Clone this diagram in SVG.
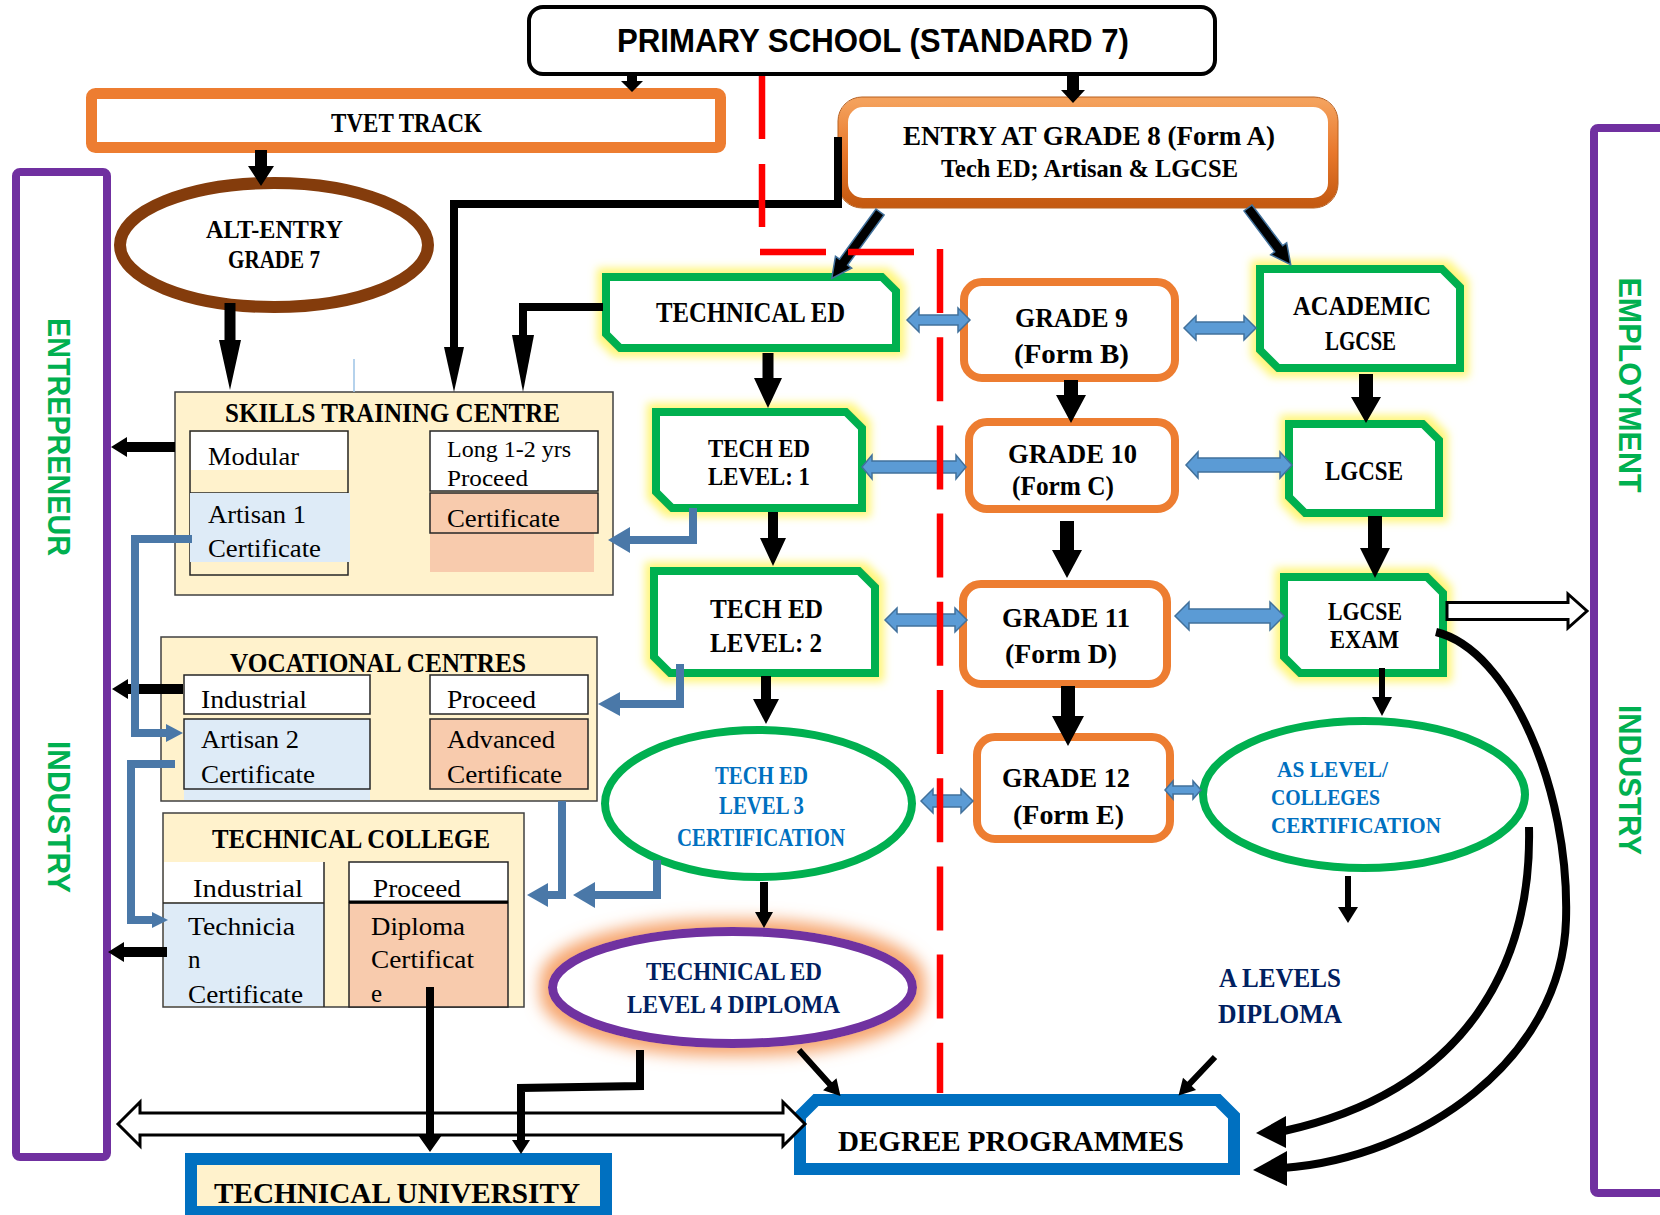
<svg xmlns="http://www.w3.org/2000/svg" width="1660" height="1215" viewBox="0 0 1660 1215">
<defs>
<style>
.ser{font-family:"Liberation Serif","DejaVu Serif",serif}
.sb{font-family:"Liberation Serif","DejaVu Serif",serif;font-weight:bold}
.sans{font-family:"Liberation Sans","DejaVu Sans",sans-serif;font-weight:bold}
.dbl{fill:#5B9BD5;stroke:#41719C;stroke-width:1.5}
.grn{fill:#fff;stroke:#00B050;stroke-width:8}
.org{fill:#fff;stroke:#ED7D31;stroke-width:8}
.red{stroke:#FF0000;stroke-width:6.5;fill:none}
.bl{fill:none;stroke:#4A78A8;stroke-width:8}
.blh{fill:#4A78A8}
.ln{fill:none;stroke:#000;stroke-width:8}
.cell{stroke:#262626;stroke-width:1.5}
.cream{fill:#FFF2CC;stroke:#404040;stroke-width:1.5}
.vert{fill:#00B050;font-size:32px}
.blu{fill:#0070C0}
.navy{fill:#002060}
.hol{fill:#fff;stroke:#000;stroke-width:3;stroke-linejoin:miter}
</style>
<filter id="gy" x="-20%" y="-30%" width="140%" height="160%">
<feMorphology in="SourceAlpha" operator="dilate" radius="5" result="d"/>
<feGaussianBlur in="d" stdDeviation="4" result="b"/>
<feFlood flood-color="#FFF56B" flood-opacity="0.9"/>
<feComposite in2="b" operator="in" result="g"/>
<feMerge><feMergeNode in="g"/><feMergeNode in="SourceGraphic"/></feMerge>
</filter>
<filter id="go" x="-25%" y="-50%" width="150%" height="200%">
<feMorphology in="SourceAlpha" operator="dilate" radius="8" result="d"/>
<feGaussianBlur in="d" stdDeviation="8" result="b"/>
<feFlood flood-color="#F6A56E" flood-opacity="1"/>
<feComposite in2="b" operator="in" result="g"/>
<feMerge><feMergeNode in="g"/><feMergeNode in="SourceGraphic"/></feMerge>
</filter>
<linearGradient id="eg" x1="0" y1="0" x2="0" y2="1">
<stop offset="0" stop-color="#F4A15C"/>
<stop offset="0.5" stop-color="#E8782C"/>
<stop offset="1" stop-color="#C55A11"/>
</linearGradient>
</defs>
<rect width="1660" height="1215" fill="#fff"/>

<g id="primary">
<rect x="529" y="7" width="686" height="67" rx="14" fill="#fff" stroke="#000" stroke-width="4"/>
<text x="617" y="52" class="sans" font-size="33" textLength="512" lengthAdjust="spacingAndGlyphs">PRIMARY SCHOOL (STANDARD 7)</text>
</g>
<g id="tvet">
<rect x="91.5" y="93.5" width="629" height="54" rx="4" fill="#fff" stroke="#ED7D31" stroke-width="11"/>
<text x="331" y="132" class="sb" font-size="28" textLength="151" lengthAdjust="spacingAndGlyphs">TVET TRACK</text>
</g>
<g id="entry">
<rect x="843" y="102" width="490" height="101" rx="20" fill="#fff" stroke="url(#eg)" stroke-width="10"/>
<rect x="838" y="97" width="500" height="111" rx="24" fill="none" stroke="#B8601F" stroke-width="1"/>
<text x="903" y="145" class="sb" font-size="27" textLength="372" lengthAdjust="spacingAndGlyphs">ENTRY AT GRADE 8 (Form A)</text>
<text x="941" y="177" class="sb" font-size="25" textLength="297" lengthAdjust="spacingAndGlyphs">Tech ED; Artisan &amp; LGCSE</text>
</g>
<g id="altentry">
<ellipse cx="274" cy="245" rx="154" ry="62" fill="#fff" stroke="#843C0C" stroke-width="12"/>
<text x="206" y="238" class="sb" font-size="25" textLength="137" lengthAdjust="spacingAndGlyphs">ALT-ENTRY</text>
<text x="228" y="268" class="sb" font-size="25" textLength="92" lengthAdjust="spacingAndGlyphs">GRADE 7</text>
</g>
<g id="entrepreneur">
<rect x="16" y="172" width="91" height="985" rx="4" fill="#fff" stroke="#7030A0" stroke-width="8"/>
<text transform="translate(48,437) rotate(90)" class="sans vert" text-anchor="middle" textLength="238" lengthAdjust="spacingAndGlyphs">ENTREPRENEUR</text>
<text transform="translate(48,817) rotate(90)" class="sans vert" text-anchor="middle" textLength="152" lengthAdjust="spacingAndGlyphs">INDUSTRY</text>
</g>
<g id="employment">
<rect x="1594" y="128" width="100" height="1065" rx="4" fill="#fff" stroke="#7030A0" stroke-width="8"/>
<text transform="translate(1619,385) rotate(90)" class="sans vert" text-anchor="middle" textLength="215" lengthAdjust="spacingAndGlyphs">EMPLOYMENT</text>
<text transform="translate(1619,780) rotate(90)" class="sans vert" text-anchor="middle" textLength="150" lengthAdjust="spacingAndGlyphs">INDUSTRY</text>
</g>

<g id="technical-ed">
<path class="grn" filter="url(#gy)" d="M606,277 H882 L896,291 V348 H620 L606,334 Z"/>
<text x="656" y="322" class="sb" font-size="29" textLength="189" lengthAdjust="spacingAndGlyphs">TECHNICAL ED</text>
</g>
<g id="academic">
<path class="grn" filter="url(#gy)" d="M1260,269 H1442 L1460,287 V368 H1278 L1260,350 Z"/>
<text x="1293" y="315" class="sb" font-size="28" textLength="138" lengthAdjust="spacingAndGlyphs">ACADEMIC</text>
<text x="1325" y="350" class="sb" font-size="28" textLength="71" lengthAdjust="spacingAndGlyphs">LGCSE</text>
</g>
<g id="lgcse">
<path class="grn" filter="url(#gy)" d="M1289,424 H1423 L1439,440 V513 H1305 L1289,497 Z"/>
<text x="1325" y="480" class="sb" font-size="28" textLength="78" lengthAdjust="spacingAndGlyphs">LGCSE</text>
</g>
<g id="lgcse-exam">
<path class="grn" filter="url(#gy)" d="M1284,577 H1427 L1443,593 V673 H1300 L1284,657 Z"/>
<text x="1328" y="620" class="sb" font-size="26" textLength="74" lengthAdjust="spacingAndGlyphs">LGCSE</text>
<text x="1330" y="648" class="sb" font-size="26" textLength="69" lengthAdjust="spacingAndGlyphs">EXAM</text>
</g>
<g id="tech-l1">
<path class="grn" filter="url(#gy)" d="M656,412 H846 L862,428 V508 H672 L656,492 Z"/>
<text x="708" y="457" class="sb" font-size="26" textLength="102" lengthAdjust="spacingAndGlyphs">TECH ED</text>
<text x="708" y="485" class="sb" font-size="26" textLength="102" lengthAdjust="spacingAndGlyphs">LEVEL: 1</text>
</g>
<g id="tech-l2">
<path class="grn" filter="url(#gy)" d="M654,571 H859 L875,587 V673 H670 L654,657 Z"/>
<text x="710" y="618" class="sb" font-size="28" textLength="113" lengthAdjust="spacingAndGlyphs">TECH ED</text>
<text x="710" y="652" class="sb" font-size="28" textLength="112" lengthAdjust="spacingAndGlyphs">LEVEL: 2</text>
</g>
<g id="grade9">
<rect class="org" x="964" y="282" width="211" height="96" rx="18"/>
<text x="1015" y="327" class="sb" font-size="28" textLength="113" lengthAdjust="spacingAndGlyphs">GRADE 9</text>
<text x="1014" y="363" class="sb" font-size="28" textLength="115" lengthAdjust="spacingAndGlyphs">(Form B)</text>
</g>
<g id="grade10">
<rect class="org" x="969" y="422" width="206" height="87" rx="18"/>
<text x="1008" y="463" class="sb" font-size="28" textLength="129" lengthAdjust="spacingAndGlyphs">GRADE 10</text>
<text x="1012" y="495" class="sb" font-size="28" textLength="102" lengthAdjust="spacingAndGlyphs">(Form C)</text>
</g>
<g id="grade11">
<rect class="org" x="963" y="584" width="204" height="100" rx="18"/>
<text x="1002" y="627" class="sb" font-size="28" textLength="128" lengthAdjust="spacingAndGlyphs">GRADE 11</text>
<text x="1005" y="663" class="sb" font-size="28" textLength="112" lengthAdjust="spacingAndGlyphs">(Form D)</text>
</g>
<g id="grade12">
<rect class="org" x="977" y="737" width="193" height="102" rx="18"/>
<text x="1002" y="787" class="sb" font-size="28" textLength="128" lengthAdjust="spacingAndGlyphs">GRADE 12</text>
<text x="1013" y="824" class="sb" font-size="28" textLength="111" lengthAdjust="spacingAndGlyphs">(Form E)</text>
</g>
<g id="tech-l3">
<ellipse cx="758.5" cy="803.5" rx="153.5" ry="73.5" fill="#fff" stroke="#00B050" stroke-width="8"/>
<text x="715" y="784" class="sb blu" font-size="25" textLength="93" lengthAdjust="spacingAndGlyphs">TECH ED</text>
<text x="719" y="814" class="sb blu" font-size="25" textLength="85" lengthAdjust="spacingAndGlyphs">LEVEL 3</text>
<text x="677" y="846" class="sb blu" font-size="25" textLength="168" lengthAdjust="spacingAndGlyphs">CERTIFICATION</text>
</g>
<g id="as-level">
<ellipse cx="1364" cy="794.5" rx="161" ry="73.5" fill="#fff" stroke="#00B050" stroke-width="8"/>
<text x="1277" y="777" class="sb blu" font-size="23" textLength="111" lengthAdjust="spacingAndGlyphs">AS LEVEL/</text>
<text x="1271" y="805" class="sb blu" font-size="23" textLength="109" lengthAdjust="spacingAndGlyphs">COLLEGES</text>
<text x="1271" y="833" class="sb blu" font-size="23" textLength="170" lengthAdjust="spacingAndGlyphs">CERTIFICATION</text>
</g>
<g id="tech-l4">
<ellipse cx="732.5" cy="987.5" rx="180" ry="56" fill="#fff" stroke="#7030A0" stroke-width="9" filter="url(#go)"/>
<text x="646" y="980" class="sb navy" font-size="25" textLength="176" lengthAdjust="spacingAndGlyphs">TECHNICAL ED</text>
<text x="627" y="1013" class="sb navy" font-size="25" textLength="213" lengthAdjust="spacingAndGlyphs">LEVEL 4 DIPLOMA</text>
</g>
<g id="a-levels">
<text x="1219" y="987" class="sb navy" font-size="28" textLength="122" lengthAdjust="spacingAndGlyphs">A LEVELS</text>
<text x="1218" y="1023" class="sb navy" font-size="28" textLength="124" lengthAdjust="spacingAndGlyphs">DIPLOMA</text>
</g>
<g id="degree">
<path d="M816,1100 H1218 L1234,1116 V1169 H800 V1116 Z" fill="#fff" stroke="#0070C0" stroke-width="12"/>
<text x="838" y="1151" class="sb" font-size="29" textLength="346" lengthAdjust="spacingAndGlyphs">DEGREE PROGRAMMES</text>
</g>
<g id="tech-university">
<rect x="191" y="1159" width="415" height="53" fill="#FFF2CC" stroke="#0070C0" stroke-width="12"/>
<text x="214" y="1203" class="sb" font-size="30" textLength="366" lengthAdjust="spacingAndGlyphs">TECHNICAL UNIVERSITY</text>
</g>

<g id="skills">
<rect class="cream" x="175" y="392" width="438" height="203"/>
<text x="225" y="422" class="sb" font-size="27" textLength="335" lengthAdjust="spacingAndGlyphs">SKILLS TRAINING CENTRE</text>
<rect class="cell" x="190" y="431" width="158" height="144" fill="none"/>
<rect x="191" y="432" width="156" height="38" fill="#fff"/>
<line class="cell" x1="190" y1="493" x2="348" y2="493"/>
<rect x="190" y="493" width="160" height="69" fill="#DEEBF7"/>
<rect class="cell" x="430" y="431" width="168" height="60" fill="#fff"/>
<rect x="430" y="533" width="164" height="39" fill="#F8CBAD"/>
<rect class="cell" x="430" y="493" width="168" height="40" fill="#F8CBAD"/>
<text x="208" y="465" class="ser" font-size="25" textLength="91" lengthAdjust="spacingAndGlyphs">Modular</text>
<text x="208" y="523" class="ser" font-size="25" textLength="98" lengthAdjust="spacingAndGlyphs">Artisan 1</text>
<text x="208" y="557" class="ser" font-size="25" textLength="113" lengthAdjust="spacingAndGlyphs">Certificate</text>
<text x="447" y="457" class="ser" font-size="23" textLength="124" lengthAdjust="spacingAndGlyphs">Long 1-2 yrs</text>
<text x="447" y="486" class="ser" font-size="23" textLength="81" lengthAdjust="spacingAndGlyphs">Proceed</text>
<text x="447" y="527" class="ser" font-size="25" textLength="113" lengthAdjust="spacingAndGlyphs">Certificate</text>
</g>
<g id="vocational">
<rect class="cream" x="161" y="637" width="436" height="164"/>
<text x="230" y="672" class="sb" font-size="27" textLength="296" lengthAdjust="spacingAndGlyphs">VOCATIONAL CENTRES</text>
<rect class="cell" x="184" y="675" width="186" height="39" fill="#fff"/>
<rect x="184" y="719" width="186" height="81" fill="#DEEBF7"/>
<rect class="cell" x="184" y="719" width="186" height="70" fill="none"/>
<rect class="cell" x="430" y="675" width="158" height="39" fill="#fff"/>
<rect class="cell" x="430" y="719" width="158" height="70" fill="#F8CBAD"/>
<text x="201" y="708" class="ser" font-size="25" textLength="106" lengthAdjust="spacingAndGlyphs">Industrial</text>
<text x="201" y="748" class="ser" font-size="25" textLength="98" lengthAdjust="spacingAndGlyphs">Artisan 2</text>
<text x="201" y="783" class="ser" font-size="25" textLength="114" lengthAdjust="spacingAndGlyphs">Certificate</text>
<text x="447" y="708" class="ser" font-size="25" textLength="89" lengthAdjust="spacingAndGlyphs">Proceed</text>
<text x="447" y="748" class="ser" font-size="25" textLength="108" lengthAdjust="spacingAndGlyphs">Advanced</text>
<text x="447" y="783" class="ser" font-size="25" textLength="115" lengthAdjust="spacingAndGlyphs">Certificate</text>
</g>
<g id="tech-college">
<rect class="cream" x="163" y="813" width="361" height="194"/>
<text x="212" y="848" class="sb" font-size="28" textLength="278" lengthAdjust="spacingAndGlyphs">TECHNICAL COLLEGE</text>
<rect x="164" y="862" width="160" height="40" fill="#fff"/>
<rect x="164" y="903" width="160" height="103" fill="#DEEBF7"/>
<line class="cell" x1="163" y1="903" x2="324" y2="903"/>
<line class="cell" x1="324" y1="862" x2="324" y2="1007"/>
<rect class="cell" x="349" y="862" width="159" height="40" fill="#fff"/>
<rect class="cell" x="349" y="903" width="159" height="104" fill="#F8CBAD"/>
<line x1="349" y1="902" x2="508" y2="902" stroke="#000" stroke-width="3"/>
<text x="193" y="897" class="ser" font-size="25" textLength="110" lengthAdjust="spacingAndGlyphs">Industrial</text>
<text x="188" y="935" class="ser" font-size="25" textLength="107" lengthAdjust="spacingAndGlyphs">Technicia</text>
<text x="188" y="968" class="ser" font-size="25">n</text>
<text x="188" y="1003" class="ser" font-size="25" textLength="115" lengthAdjust="spacingAndGlyphs">Certificate</text>
<text x="373" y="897" class="ser" font-size="25" textLength="88" lengthAdjust="spacingAndGlyphs">Proceed</text>
<text x="371" y="935" class="ser" font-size="25" textLength="94" lengthAdjust="spacingAndGlyphs">Diploma</text>
<text x="371" y="968" class="ser" font-size="25" textLength="103" lengthAdjust="spacingAndGlyphs">Certificat</text>
<text x="371" y="1002" class="ser" font-size="25">e</text>
</g>

<g id="connectors">
<polygon class="hol" points="118,1124 140,1102 140,1113 783,1113 783,1102 805,1124 783,1146 783,1135 140,1135 140,1146"/>
<polygon class="hol" stroke-width="2.5" points="1447,602.5 1568,602.5 1568,594 1587,611 1568,628 1568,619.5 1447,619.5"/>
<polygon points="627,74 637,74 637,81 643,81 632,92 621,81 627,81"/>
<polygon points="1067,76 1079,76 1079,90 1085,90 1073,103 1061,90 1067,90"/>
<polygon points="255,150 267,150 267,166 274,166 261,186 248,166 255,166"/>
<polygon points="224.5,303 235.5,303 235.5,340 241,340 230,390 219,340 224.5,340"/>
<polygon points="762.5,353 773.5,353 773.5,378 782,378 768,408 754,378 762.5,378"/>
<polygon points="768,512 778,512 778,538 786,538 773,566 760,538 768,538"/>
<polygon points="761,676 771,676 771,699 779,699 766,724 753,699 761,699"/>
<polygon points="760,882 768,882 768,912 773,912 764,928 755,912 760,912"/>
<polygon points="1064,380 1078,380 1078,395 1086,395 1071,423 1056,395 1064,395"/>
<polygon points="1060,521 1074,521 1074,550 1082,550 1067,578 1052,550 1060,550"/>
<polygon points="1061,686 1075,686 1075,716 1084,716 1068,746 1052,716 1061,716"/>
<polygon points="1359,374 1373,374 1373,397 1381,397 1366,423 1351,397 1359,397"/>
<polygon points="1368,516 1382,516 1382,548 1390,548 1375,578 1360,548 1368,548"/>
<polygon points="1379,668 1385,668 1385,697 1392,697 1382,716 1372,697 1379,697"/>
<polygon points="1345,876 1351,876 1351,907 1358,907 1348,923 1338,907 1345,907"/>
<polygon points="426,987 434,987 434,1135 442,1135 430,1152 418,1135 426,1135"/>
<path class="ln" d="M838,137 V204 H454 V350"/>
<polygon points="444,347 464,347 454,392"/>
<path class="ln" stroke-width="9" d="M603,307 H523 V340"/>
<polygon points="512,335 534,335 523,392"/>
<path class="ln" stroke-width="7" d="M640,1050 V1086 L521,1088 V1142"/>
<polygon points="512,1140 530,1140 521,1154"/>
<polygon points="175,442 127,442 127,437 111,447 127,457 127,452 175,452"/>
<polygon points="183,684 128,684 128,679 112,689 128,699 128,694 183,694"/>
<polygon points="167,947 124,947 124,942 108,952 124,962 124,957 167,957"/>
<polygon transform="translate(880,212) rotate(126)" fill="#000" stroke="#41719C" stroke-width="1.5" points="0,-5 62,-5 62,-10 82,0 62,10 62,5 0,5"/>
<polygon transform="translate(1248,208) rotate(53)" fill="#000" stroke="#41719C" stroke-width="1.5" points="0,-5 51,-5 51,-10 71,0 51,10 51,5 0,5"/>
<polygon transform="translate(799,1050) rotate(48)" points="0,-3 46,-3 46,-9 62,0 46,9 46,3 0,3"/>
<polygon transform="translate(1215,1057) rotate(133.5)" points="0,-3 37,-3 37,-9 53,0 37,9 37,3 0,3"/>
<path class="ln" d="M1436,632 C1510,650 1570,790 1566,920 C1562,1060 1420,1158 1283,1168"/>
<polygon points="1253,1170 1287,1151 1287,1186"/>
<path class="ln" d="M1529,827 C1532,960 1470,1090 1284,1131"/>
<polygon points="1256,1133 1286,1116 1286,1148"/>
<path class="bl" d="M693,508 V540 H628"/>
<polygon class="blh" points="630,527 630,553 608,540"/>
<path class="bl" d="M680,664 V704 H618"/>
<polygon class="blh" points="620,692 620,716 598,704"/>
<path class="bl" d="M562,801 V895 H546"/>
<polygon class="blh" points="548,883 548,907 527,895"/>
<path class="bl" d="M657,860 V895 H593"/>
<polygon class="blh" points="595,882 595,908 573,895"/>
<path class="bl" stroke-width="4" d="M192,539 H135 V733 H167"/>
<polygon class="blh" points="166,724 166,742 183,733"/>
<path class="bl" stroke-width="4" d="M175,764 H131 V920 H153"/>
<polygon class="blh" points="152,912 152,928 168,920"/>
<line x1="354" y1="359" x2="354" y2="392" stroke="#9DC3E6" stroke-width="1.5"/>
<polygon class="dbl" points="907,320 919,308 919,315 958,315 958,308 970,320 958,332 958,325 919,325 919,332"/>
<polygon class="dbl" points="1184,328 1196,316 1196,322 1244,322 1244,316 1256,328 1244,340 1244,334 1196,334 1196,340"/>
<polygon class="dbl" points="862,467 872,455 872,461 956,461 956,455 966,467 956,479 956,473 872,473 872,479"/>
<polygon class="dbl" points="1186,465 1198,452 1198,458 1280,458 1280,452 1292,465 1280,478 1280,472 1198,472 1198,478"/>
<polygon class="dbl" points="885,620 897,608 897,614 955,614 955,608 967,620 955,632 955,626 897,626 897,632"/>
<polygon class="dbl" points="1175,616 1189,602 1189,609 1270,609 1270,602 1284,616 1270,630 1270,623 1189,623 1189,630"/>
<polygon class="dbl" points="921,801 933,789 933,795 961,795 961,789 973,801 961,813 961,807 933,807 933,813"/>
<polygon class="dbl" points="1165,790 1173,781 1173,786 1193,786 1193,781 1201,790 1193,799 1193,794 1173,794 1173,799"/>
<line class="red" x1="762" y1="76" x2="762" y2="228" stroke-dasharray="63 25"/>
<line class="red" x1="760" y1="252" x2="914" y2="252" stroke-dasharray="66 22"/>
<line class="red" x1="940" y1="249" x2="940" y2="1093" stroke-dasharray="64 24.2"/>
</g>
</svg>
